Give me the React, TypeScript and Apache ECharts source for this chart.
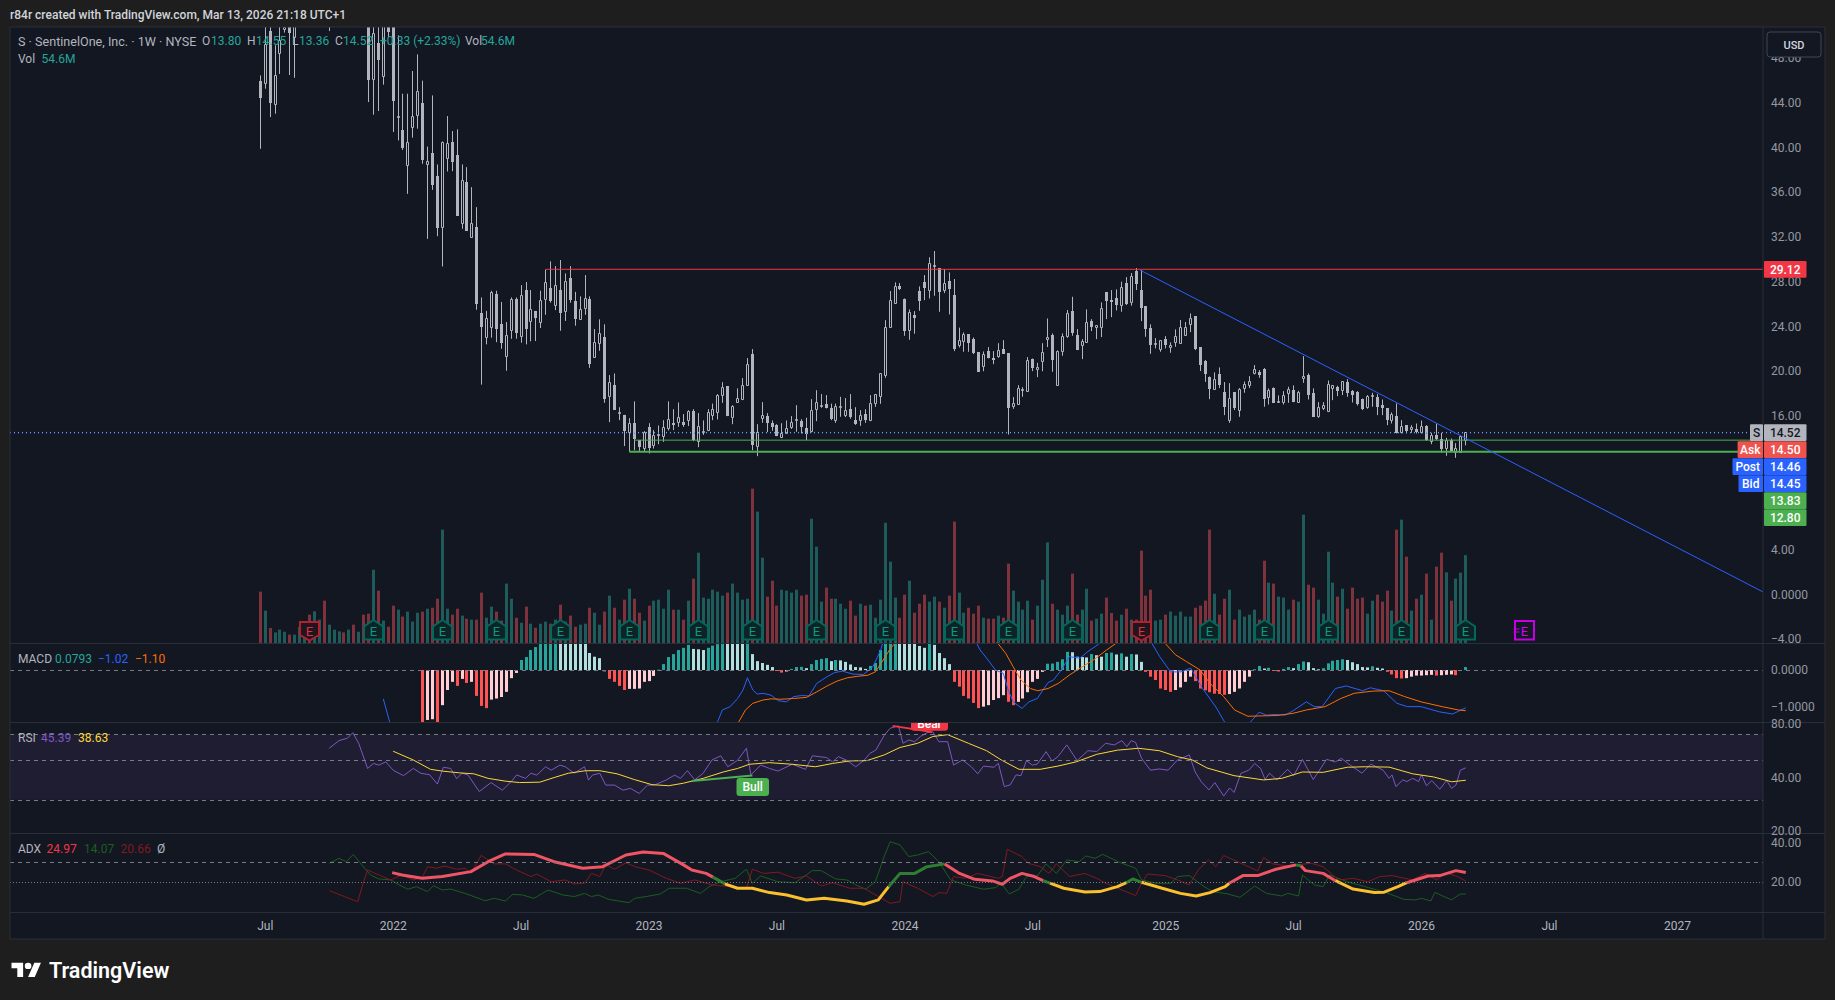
import React, { useEffect, useRef } from "react";
import * as echarts from "echarts";

// ---------- DATA ----------
// weekly candles, index 0 = week of 28 Jun 2021: [open, high, low, close]
const candles: number[][] = [
[45.96,46.47,39.9,44.47],[45.73,52,45.28,49.2],[50.44,52,42.74,44.02],[43.84,49.16,43.04,46.47],[48.4,52,46.6,49.6],
[50.55,53,50.3,50.8],[53,55,46.5,50.26],[49.9,55,46.26,53],[54,57,52,56],[56,60,55,59],
[59,62,57,58],[58,64,57,63],[63,68,62,66],[66,70,60,62],[62,66,50.44,64],
[64,72,63,70],[70,75,68,72],[72,78,66,68],[68,74,62,71],[71,73,58,60],
[60,66,55,62],[62,64,54,56],[56,60,44.08,46.08],[46.08,52,42.95,50.26],[49.4,51.5,43.28,47.87],
[46.4,52,45.64,51.2],[52.5,53.5,49.9,50.35],[51,52,41.4,44.17],[42.72,50.05,40.65,42.75],[41.55,44.83,39.8,40],
[38.38,44.83,35.87,40.5],[41.79,46.86,40.9,42.8],[42.86,48.35,41.7,45.04],[44,46,38.56,38.92],[38.47,40.1,31.84,38.8],
[39.52,44.68,36.23,36.68],[37.46,38.5,32.08,32.83],[32.9,40.56,29.37,40.5],[39.04,42.83,37.87,40.4],[40.5,41.49,37.9,38.74],
[39.34,41.64,33.9,33.9],[33.2,38.5,32.74,37.07],[36.9,38.26,32.56,32.56],[31.93,36.47,31.93,33.25],[32.9,34.68,25.5,26],
[25.2,26.6,18.8,23.95],[23,25.4,22.4,24.7],[23.95,27.2,23,27],[26.9,27.2,22.6,23.8],[24.2,26.2,22,22.5],
[21.3,24.4,20.04,23.2],[23.62,26.6,22.9,26.43],[26.43,26.6,22.9,23.44],[23.08,27.7,22.55,26.8],[27.3,27.98,22.4,23.8],
[24.46,27.26,22.67,25.5],[25.38,25.4,22.7,24.75],[24.34,27.2,23.86,26.37],[26.43,29.1,25.05,27.98],[27.44,29.83,26.13,26.3],
[25.9,29.4,25.47,27.68],[27.3,29.95,23.62,25.23],[25.35,28.75,24.5,28.04],[28.34,29.4,26.13,26.37],[26.3,27.1,24.07,24.7],
[24.63,26.7,24.63,25.5],[25.6,28.6,25.05,26.5],[26.43,26.7,20.3,20.64],[21.23,23.77,21.23,22.58],[22.49,24.64,21.83,23.38],
[23.08,24.2,17.17,17.53],[17.71,19.65,15.44,18.96],[18.81,19.8,16.55,16.55],[16.31,16.78,15.62,16.33],[16.07,16.1,13.3,14.64],
[14.49,15.8,12.8,15.35],[15.35,17.3,12.93,13.92],[13.83,13.83,12.87,13.23],[13.05,14.64,12.8,14.52],[15,15.35,12.64,13.17],
[13.38,14.73,13.08,14.25],[14.32,15.14,13.47,14.34],[14.13,15.62,13.68,14.96],[14.84,17.3,14.7,15.68],[15.35,16.6,14.73,15.17],
[15.38,17.2,15.02,15.86],[15.44,16.16,15.02,15.23],[15.56,16.5,15.1,16.4],[16.4,16.6,13.74,13.83],[13.71,16.25,13.2,15.05],
[14.55,15.6,14.3,14.6],[14.73,16.6,14.64,16.31],[16,17.1,15.62,16.57],[16.28,17.95,15.68,17.86],[17.8,19.02,17.17,18.55],
[18.67,18.67,15.98,15.98],[15.83,16.96,15.26,16.87],[17.17,18.46,17.17,17.56],[17.5,19.38,17.41,18.73],[18.76,21.17,18.7,20.6],
[21.5,21.98,12.93,13.38],[13.23,15.26,12.4,14.49],[15.74,17.23,15.38,16.04],[15.98,16.25,14.55,15.38],[15.35,15.59,14.67,15.02],
[15.17,15.26,14.19,14.22],[14.04,15.35,14.01,14.4],[14.43,15.59,14.37,14.87],[14.96,15.98,14.84,15.41],[15.65,16.96,14.58,15.7],
[15.53,15.71,14.43,15.02],[14.96,15.83,13.83,14.4],[14.58,17.5,14.52,16.49],[16.55,18.3,15.53,17.2],[16.87,17.95,16.73,16.93],
[17.05,17.86,16.67,16.73],[16.7,17.1,15.62,15.71],[15.62,17.1,15.38,16.84],[16.85,17.71,15.92,16.87],[16.07,17.6,15.89,16.49],
[16.6,17.95,15.74,15.89],[15.62,16.78,15.2,15.26],[15.56,16.52,15.11,16.04],[16.16,16.6,15.38,15.59],[15.62,17.86,15.53,17.11],
[17.08,17.92,16.81,17.92],[17.71,19.8,17.08,19.8],[19.59,24.57,19.41,23.92],[23.89,27.17,23.89,26.33],[26.04,27.95,26.04,27.59],
[27.59,27.89,27.26,27.35],[26.42,26.51,23.17,23.62],[23.62,25.53,22.81,25.26],[25.02,25.38,23.35,24.78],[27.17,27.59,25.41,26.3],
[27.95,28.6,26.36,27.47],[27.23,30.19,26.51,29.65],[29.42,30.75,26.75,29.44],[29.2,29.2,25.32,27.11],[27.2,29.14,26.99,27.86],
[28.07,28.84,25.08,27.35],[26.81,28.25,21.8,21.98],[22.33,23.9,22.12,22.75],[22.69,23.47,21.74,23.32],[23.29,23.29,21.74,22.51],
[22.87,23.02,21.53,21.59],[21.71,21.71,19.95,19.95],[20.39,21.77,20,21.53],[21.77,22.16,21.14,21.2],[21.17,21.8,20.63,21.02],
[21.29,22.51,21.2,21.86],[21.98,22.78,21.56,21.56],[21.62,21.62,14.33,16.72],[16.87,17.68,16.63,17.11],[16.99,18.75,16.99,18.45],
[18.34,18.57,17.71,18.36],[18.15,21.26,18.15,20.99],[21.05,21.14,20,20.3],[20.13,20.75,19.47,20.33],[20.84,22.51,20,21.68],
[22.81,24.72,22.16,23.02],[23.23,23.38,19.95,21.02],[18.69,21.86,18.69,21.77],[21.74,23.38,21.38,23.11],[23.08,25.47,22.99,25.17],
[25.38,26.66,23.17,23.41],[23.23,23.77,21.89,21.89],[22.27,22.87,21.08,22.66],[22.54,25.53,22.54,24.36],[24.48,24.66,23.59,23.95],
[23.89,24.12,22.87,24.12],[23.95,26.16,23.05,25.62],[27.08,27.08,24.66,26.3],[26.36,27.26,24.84,26.18],[26.51,27.32,25.44,25.92],
[25.86,28.01,25.32,27.5],[27.89,28.42,25.92,25.98],[26.13,28.78,25.86,28.48],[28.96,29.23,27.26,27.83],[27.26,29.05,24.48,25.68],
[25.83,25.83,23.08,23.8],[23.83,24.19,21.56,22.36],[22.43,22.96,22.04,22.45],[21.95,22.79,21.74,22.79],[22.88,23.14,22.04,22.34],
[22.1,22.58,21.65,22.31],[22.55,23.74,22.19,23.11],[22.49,24.58,22.43,23.92],[23.17,24.4,23.17,23.92],[24.19,25.17,23.5,24.73],
[24.94,24.94,21.89,21.98],[22.13,22.13,20.01,20.55],[20.9,21,19.05,19.74],[19.47,19.53,17.5,18.4],[18.4,19.89,18.4,19.26],
[19.71,20.34,18.49,18.79],[18.13,19.03,16.07,16.79],[15.62,18.93,15.38,17.56],[18.1,18.1,16.52,16.67],[16.46,18.49,15.92,18.4],
[18.46,19.08,18.07,18.82],[18.73,19.56,18.49,19.08],[19.83,20.55,19.71,20.16],[19.92,20.1,19.41,19.68],[20.19,20.28,16.82,17.53],
[17.62,18.46,17.02,18.25],[18.49,18.55,17.17,17.17],[17.24,17.83,17.17,17.26],[17.23,18.22,17.02,17.83],[17.98,18.61,17.17,18.37],
[18.28,18.73,17.23,17.26],[17.23,18.25,17.17,18.07],[19.32,21.35,18.96,19.53],[19.62,19.8,17.47,17.89],[18.01,18.46,15.92,15.92],
[15.95,17.23,15.83,16.76],[16.7,17.23,16.52,16.93],[16.4,19.17,16.34,18.82],[18.49,18.73,17.41,18.73],[18.58,18.7,17.77,18.25],
[18.25,19.08,17.86,19.08],[19.03,19.29,17.71,18.07],[18.22,18.31,17.2,17.86],[18.13,18.22,16.93,17.11],[17.47,17.56,16.52,16.64],
[16.73,17.86,16.64,17.71],[17.81,18.07,16.82,17.83],[17.71,17.95,16.07,16.82],[16.99,17.47,16.07,16.7],[16.67,16.67,15.17,15.62],
[15.62,16.31,15.32,16.16],[15.98,17.11,14.43,14.49],[14.49,15.62,14.43,15.08],[15.17,15.17,14.43,14.61],[14.76,15.17,14.49,14.96],
[14.79,15.32,14.43,14.55],[14.49,15.59,14.43,15.05],[15.11,15.17,13.77,13.83],[13.68,14.49,13.47,14.28],[14.28,15.32,13.83,13.89],
[13.92,14.49,12.7,13.08],[13.08,14.04,12.43,13.83],[13.83,13.98,12.79,12.79],[12.7,13.56,12.25,13.08],[12.76,14.28,12.7,14.13],
[13.8,14.55,13.36,14.52],
];

// volume, millions of shares, one per candle
const volumes: number[] = [
31.9,20.1,9.3,6.6,8.3,7,5.2,5.2,9.9,13.5,17.6,19.7,14.5,26.3,11.4,8.3,7.2,6.6,8.3,11.4,
7,17.6,18.2,45.5,32.5,13.9,10.1,23.2,20.7,16.4,19.5,13.3,18.8,19.5,21.3,21.9,27.5,70.4,21.3,17.6,
21.3,17,15.1,14.5,14.5,31.3,15.7,22.6,19.5,13.9,36.9,27.5,15.7,12.6,22.6,12,9.5,12,13.3,12,
14.5,23.8,13.3,17,10.1,11.4,12,21.9,18.8,11.4,19.5,29.4,21.9,14.5,26.9,33.7,27.5,18.8,13.9,23.2,
26.3,26.9,21.3,33.1,20.7,20.7,14.5,26.3,40,56.1,28.2,27.5,33.1,31.9,29.4,31.3,36.9,31.3,26.9,27.5,
95.9,81.6,53,28.8,38.7,23.2,33.1,32.5,31.3,33.1,29.4,30,77.2,59.8,25.7,34.4,27.5,27.5,24.4,21.3,
26.3,17,24.4,23.2,23.8,15.7,26.9,74.7,50.5,28.2,15.7,30,38.7,18.8,24.4,30,25.7,28.8,25.7,21.9,
29.4,75.4,31.3,18.8,21.9,18.2,23.2,15.7,15.1,15.1,17,15.7,49.3,32.5,25.7,20.7,26.3,14.5,23.2,39.3,
62.5,24.4,20.7,17.6,23.2,43.1,17.6,20.7,33.7,13.9,15.1,18.2,28.2,18.6,13.9,17.6,21.3,14.5,14.5,57.4,
29.4,33.1,13.9,14.5,17.6,19.5,17,19.5,16.4,16.4,21.9,23.2,26.3,70.4,30.6,17.6,27.5,33.1,14.5,20.7,
16.4,17.6,20.7,14.5,51.1,37.5,36.9,28.8,28.2,20.7,26.9,25.7,79.7,36.2,34.4,26.9,18.2,56.7,37.5,28.8,
33.7,21.3,34.4,27.5,28.2,18.2,26.3,30,25.7,32.5,20.1,70.4,76.6,53.6,20.1,27.5,30,43.1,14.5,47.4,
56.1,43.9,26.3,40,43.7,54.6,
];

// MACD histogram, first value belongs to candle index 33
const histStart = 33;
const macdHist: number[] = [
-1.53,-1.35,-1.33,-1.5,-.95,-.54,-.32,-.43,-.24,-.35,-.32,-.7,-.97,-1.03,-.8,-.77,-.73,-.59,-.22,-.08,
.27,.35,.54,.62,.8,.9,1,1.1,1,.95,.9,.85,.8,.75,.46,.36,.32,-.04,-.24,-.32,-.43,-.54,-.51,-.51,-.5,-.32,-.3,-.16,
.01,.16,.35,.43,.54,.6,.68,.57,.56,.54,.6,.66,.7,.9,.85,.8,.75,.72,.8,.43,.24,.19,.14,.08,-.02,-.07,-.04,.03,.08,.085,.05,
.16,.27,.3,.32,.24,.27,.26,.22,.15,.08,.07,.03,.11,.19,.54,.9,1.1,1.2,1.15,1.1,1,.85,.65,.6,.72,.68,.46,.32,.16,
-.32,-.45,-.7,-.77,-.89,-1.03,-.99,-.95,-.81,-.76,-.68,-.86,-.95,-.86,-.77,-.6,-.32,-.24,-.05,
.17,.175,.22,.29,.49,.48,.36,.35,.34,.43,.4,.36,.46,.47,.42,.45,.36,.43,.42,.22,
-.05,-.18,-.27,-.5,-.54,-.59,-.54,-.47,-.32,-.18,-.3,-.5,-.55,-.6,-.64,-.65,-.67,-.65,-.59,-.5,-.32,-.18,
.02,.11,.04,.06,-.01,-.04,.03,.08,.05,.16,.23,.21,.05,.02,.05,.18,.25,.27,.29,.27,.21,.16,.08,.07,.1,.06,.04,
-.05,-.12,-.22,-.23,-.22,-.18,-.15,-.15,-.14,-.13,-.15,-.14,-.13,-.12,-.14,-.01,.0793,
];

// sparse [candle index, value] vertices
const macdLine: number[][] = [
[25,-.78],[26.3,-1.41],[35,-3.5],[60,-3.8],[85,-2.5],[92.9,-1.41],[93.9,-1.08],[95.5,-.99],[97,-.77],[98.1,-.54],[99,-.21],[100.1,-.54],[101,-.65],[102.2,-.63],[103.8,-.68],[105.3,-.83],[106.9,-.86],[108.4,-.72],[110,-.69],[111.5,-.7],[113.1,-.36],[115.2,-.18],[116.7,-.07],[118.3,-.03],[120.4,-.11],[122.6,-.12],[124.5,.09],[126.1,.54],[126.8,.9],[135,3],[142,2.5],[145.6,.72],[146.3,.54],[147.9,.27],[149.4,0],[151,-.09],[152,-.54],[153,-.86],[154.8,-1.04],[156.2,-.86],[157.9,-.77],[160.1,-.34],[161.2,-.27],[162.8,0],[164.4,.36],[166.6,.32],[168.2,.5],[170.4,.7],[175,1.5],[180,1.2],[181.2,.72],[182.8,.36],[185,-.05],[187.1,-.05],[189.1,.05],[191.5,-.5],[194.2,-1],[196,-1.41],[198,-1.8],[200,-1.8],[201.2,-1.41],[203,-1.14],[204.5,-1.22],[206.1,-1.2],[208.3,-1.22],[209.9,-1.1],[212.6,-.86],[214.2,-.99],[215.8,-.99],[218.5,-.5],[220.7,-.43],[224,-.56],[225.6,-.48],[228.3,-.56],[231,-.9],[233.1,-.99],[235.9,-.99],[239.6,-1.13],[242.3,-1.19],[245,-1.02],
];
const macdSignal: number[][] = [
[34,-3],[60,-3.2],[90,-3],[97.2,-1.41],[98.6,-1.08],[100.1,-.9],[102.2,-.81],[103.8,-.78],[105.8,-.79],[108.4,-.77],[111,-.74],[113.1,-.59],[115.2,-.43],[117.2,-.3],[119.3,-.21],[121.4,-.17],[123.5,-.14],[125,-.05],[126.6,.27],[128.1,.59],[129,.72],[135,2],[142,1.5],[149.9,.72],[151.5,.45],[153,.09],[154.6,-.27],[156.5,-.5],[158,-.56],[160.1,-.5],[162.2,-.36],[164.4,-.14],[166.6,.05],[169.3,.27],[172,.54],[173.9,.72],[178,1.2],[183.9,.72],[186,.41],[188.2,.23],[191,0],[193,-.36],[195.8,-.72],[198,-1.08],[200.7,-1.25],[203.4,-1.24],[206.6,-1.23],[209.9,-1.17],[212.6,-1.08],[216.4,-.99],[219.6,-.77],[222.3,-.63],[226.1,-.57],[229.4,-.56],[232.6,-.72],[235.9,-.86],[240.2,-.99],[243.5,-1.08],[245,-1.1],
];
const rsiLine: number[][] = [
[14,58.4],[16,64.5],[17.7,66.5],[18.8,71.4],[20,62.3],[21.8,45],[23,48],[24.1,47],[25.5,49],[27,44],[29.1,41],[31.1,45],[32.6,42.3],[34.4,41.5],[36,36.8],[37.2,45.7],[38.7,45],[39.9,39.4],[41,42.3],[42.2,41.4],[44.5,33.4],[46.9,37.5],[49.2,34],[51,38],[52.1,41.4],[53.9,39.6],[55,42.3],[56.2,41.3],[58,46],[59.1,44],[60.9,47],[62,46],[63.8,42.3],[65.9,46],[66.7,38.7],[67.5,41.3],[69,42.3],[70.2,36.3],[72,36.3],[73.7,34],[75.2,34.8],[77,32.6],[78.7,36.3],[80.1,36.3],[82.5,38.8],[84.2,41.3],[85.4,39.6],[86.8,43.7],[88.3,38.8],[90,42.3],[91.8,50.2],[93.6,53],[95,46],[97,50],[98.8,58.4],[99.7,41.4],[101.7,47],[103.5,45],[105.2,43.5],[108.1,47.5],[110.8,44.5],[112.2,53],[115.1,51.8],[116.3,49],[117.5,52.4],[119.2,50],[121,46],[122.7,50],[123.9,54.7],[125.1,57],[126.8,69],[128,75.6],[129.7,78],[130.6,62.3],[131.8,65],[133,63.6],[134.2,68.2],[135.5,71.4],[136.7,72.2],[137.9,63.6],[139.7,63.6],[140.9,47],[142.7,50.2],[144.5,46],[145.8,42],[147,46.4],[149.1,45.7],[150,48.1],[151.2,35.6],[152.4,36.4],[153.6,41.4],[154.6,41],[155.7,49.8],[156.9,47],[157.9,47.6],[159.7,55.9],[160.9,49.6],[162.1,52.4],[163.9,61],[166,49.8],[168.2,56.6],[170,56],[171.8,62.3],[173.6,61],[175.1,64.5],[176.1,59.6],[177,64.5],[177.9,63],[179.1,51.3],[180.9,44],[182.7,44.7],[184.5,44],[186.4,50.2],[188.8,53.6],[190,43],[191.2,38],[192.8,34.1],[194,37.5],[195.8,31.5],[197,35],[197.9,33],[199.3,42.3],[200.9,44],[202.1,48],[203.3,45],[204.2,39],[205.1,42.3],[206.6,38.8],[208.8,44.5],[210,41],[211.8,50.6],[214,39],[216.7,50.6],[218.5,49],[219.7,51.3],[221.5,47],[223.9,42.3],[225.7,47.6],[228.2,44],[229.4,39.6],[230,41.4],[230.8,35.6],[232.2,38.8],[233,38],[234.2,39.6],[235.4,38],[236,41.4],[237,36],[238.1,38.5],[239.7,34.4],[241.1,38.5],[242.1,34.8],[243,36.3],[243.9,44],[245,45.39],
];
const rsiAverage: number[][] = [
[27,56.2],[31.1,50.2],[34.6,44.5],[37,43.5],[40.5,42.5],[43.4,42],[46.3,39.6],[49.8,38.2],[52.7,37.5],[56.8,37.7],[59.7,40],[62.6,42.3],[66.1,43.7],[69,43.7],[72.5,42],[76,39],[79.6,36.5],[83,36],[86,37.2],[90,39.6],[94.1,43],[97,45],[99.4,47.5],[103.5,48.5],[108.1,47.5],[112.8,46],[116.3,48],[119.8,49.6],[123.3,49.8],[126.8,53.6],[130,59],[133.6,62.3],[136.7,68],[139.7,69.6],[143.9,62.3],[147.6,56.6],[150.6,50.2],[154.2,44.5],[158.5,44.5],[162.1,46.4],[165.8,49],[170,54],[174.2,57],[178.5,58.4],[182.7,56.6],[186.4,52.4],[189.4,50.2],[192.4,45.3],[197.9,41],[203.9,38.8],[207.6,39.6],[211.8,43],[216,42.8],[220.9,45.7],[224.5,46],[229.4,45.8],[234.2,42],[238.5,40.3],[242.1,37.9],[245,38.63],
];
const bullDivergence: number[][] = [[87.7,38.3],[100,41.1]];
const bearDivergence: number[][] = [[128.5,78],[136.5,72]];

const plusDI: number[][] = [
[14,29.6],[16,32.1],[17.5,30.4],[18.9,34.1],[20.6,28.8],[22.4,23.7],[24.1,21.7],[26.5,21.2],[28.2,18.7],[30,16.5],[31.7,17.8],[34,15.3],[35.2,18.3],[37,16.1],[38.7,16.6],[41.6,14.4],[45.7,10.7],[47.5,11.9],[49.8,10.6],[51.3,13.9],[53.3,13.6],[55.6,11.9],[58.5,16.1],[61.5,13.6],[63.8,12.8],[65.9,14.4],[67.3,12.8],[68.7,13.6],[70.8,11.4],[74.9,9.7],[76.1,11.9],[78.4,12.8],[81.3,14.1],[83.1,17],[86.6,17],[89.5,14.4],[91.2,17.8],[93.6,20.3],[96.5,22],[98.8,26.6],[100,19.5],[101.7,23.2],[105.2,20.3],[108.7,19.8],[110.5,22.9],[112.2,25.9],[114,25.9],[116.9,21.7],[119.2,21.2],[121,18.7],[123,16.5],[125,20.3],[126.8,33],[128,40.5],[130,38.9],[131.8,33],[133.6,33.8],[135.8,35.5],[137.9,30.4],[140.3,21.2],[143.3,18.7],[147,16.5],[149.4,17.3],[150.6,19.5],[152.2,14.1],[154.2,16.5],[155.7,22.9],[157.9,23.2],[159.7,29.3],[161.8,24.5],[163.9,31.3],[166.4,30.4],[167.8,33.3],[169.6,32.1],[171.2,34.1],[174.8,29.9],[177.9,27.1],[179.1,21.2],[182.1,19.5],[185.1,19.5],[186.4,22.9],[188.8,23.4],[191.8,17.8],[193.6,15.3],[196.7,14.1],[199.1,12.4],[202.1,18.1],[204.5,14.4],[207.6,13.1],[208.8,14.4],[211,13.1],[211.8,23.7],[214.2,18.7],[216,17.8],[217.3,23.7],[220.9,20.3],[224.5,17.8],[228.8,14.8],[232.4,11.4],[234.8,11.1],[236,11.9],[237.9,10.6],[238.7,14.9],[242.1,11.1],[243.9,14.1],[245,14.07],
];
const minusDI: number[][] = [
[14,15.8],[17.1,12.8],[19.8,10.2],[20.9,19.5],[21.8,26.2],[24.1,23.7],[26.5,21.2],[28.8,23.7],[31.1,21.2],[32.9,22.4],[34,27.9],[35.8,27.1],[37.5,28.2],[39.9,26.6],[41.6,27.1],[42.8,24.5],[44.9,33.6],[47.5,29.3],[49.8,29.3],[52.1,26.2],[55,22.9],[56.2,24.2],[59.1,20.3],[62,21.2],[63.8,19.2],[65.9,19.5],[67.3,24.5],[69,22.9],[70.2,28.8],[72,26.6],[74.3,29.9],[76.1,27.9],[79,26.2],[82.5,22],[85.4,19.5],[88.3,21.2],[91.8,18.7],[95.3,17.8],[98.8,17],[100,26.6],[102.3,24.5],[105.2,25.1],[108.7,22],[111,23.2],[114,18.1],[116.3,19.8],[119.8,17],[122.7,17],[125.6,12.8],[128,9.4],[130,10.2],[130.6,20.3],[133.6,17],[136.7,12.8],[137.9,14.8],[139.5,14.4],[140.9,22.9],[143.3,22],[145.8,24.5],[150,22],[150.8,22.9],[151.8,36.7],[154.8,33],[156.1,29.6],[158.5,27.9],[160.3,24.5],[161.8,29.3],[164.5,22.9],[167.6,24.5],[170,22],[171.8,19.5],[177.9,13.3],[179.1,19.5],[180.3,24.2],[183.9,23.4],[186.4,21.2],[188.8,18.7],[190.6,26.2],[192.7,31.3],[194.2,27.9],[195.8,33.5],[199.1,29.9],[202.7,25.7],[203.9,32.5],[205.8,29.3],[208.8,28.2],[210.6,28.8],[213.6,29.6],[216,27.9],[219.1,21.2],[222.1,22],[225.1,20.3],[227.6,22.9],[230,23.4],[234.2,21.2],[236.7,24.5],[239.1,21.2],[240.9,24.9],[243.3,22.9],[245,20.66],
];
// ADX thick line, split where its colour changes
const adxRed1: number[][] = [[26.8,24.9],[28.8,23.7],[32.9,22],[37,22.9],[42.8,25.4],[46.3,30.4],[49.8,34.3],[55.6,34.1],[59.7,30.4],[65.5,27.1],[69.6,27.9],[74.3,33.8],[77.8,35.3],[81.9,34.6],[86,28.8],[87.7,26.2],[90.6,24.5],[92,22.6]];
const adxGreen1: number[][] = [[92,22.6],[93,21.2],[94.4,19.2]];
const adxYellow1: number[][] = [[94.4,19.2],[97,17],[100,17],[103.5,14.8],[107,13.6],[111,11.1],[114.6,11.9],[119.2,10.6],[122.7,8.9],[125.6,11.1],[127.7,17.8]];
const adxGreen2: number[][] = [[127.7,17.8],[130,24.5],[133,24.5],[135.5,27.9],[139.1,29.3]];
const adxRed2: number[][] = [[139.1,29.3],[142.1,24.5],[145.2,21.5],[148.8,20.7],[150.8,19],[152.4,22],[154.8,24.5],[157.3,22.9],[159.1,20.8]];
const adxGreen3: number[][] = [[159.1,20.8],[160.5,19.6]];
const adxYellow2: number[][] = [[160.5,19.6],[163.3,17],[167.6,15.1],[170.6,15.3],[174.2,17.8],[176,19.8]];
const adxGreen4: number[][] = [[176,19.8],[177.3,21.7],[179.1,20]];
const adxYellow3: number[][] = [[179.1,20],[183.3,17],[187,14.4],[190.2,13.1],[193,14.8],[196.1,17.8],[196.9,19.5]];
const adxRed3: number[][] = [[196.9,19.5],[199.7,23.4],[202.7,23.4],[206.4,26.6],[210.5,28.8]];
const adxGreen5: number[][] = [[210.5,28.8],[211.5,28.3]];
const adxRed4: number[][] = [[211.5,28.3],[212.4,25.9],[216,24.5],[218.5,20.8]];
const adxYellow4: number[][] = [[218.5,20.8],[222.1,16.6],[226.4,14.8],[228.4,15],[231.2,17.8],[233,19.8]];
const adxRed5: number[][] = [[233,19.8],[237.3,23.2],[239.7,23.4],[243,25.9],[245,24.97]];

const earningsUp: number[] = [23,37,48,61,75,89,100,113,127,141,152,165,193,204,217,232,245];
const earningsDown: number[] = [10,179];
const earningsNext: number[] = [257];

const priceTicks: number[] = [48,44,40,36,32,28,24,20,16,4,0,-4];
const macdTicks: number[] = [0,-1];
const adxTicks: number[] = [40,20];
const timeTicks: number[] = [1,27,53,79,105,131,157,184,210,236,262,288];
const timeLabels: string[] = ["Jul","2022","Jul","2023","Jul","2024","Jul","2025","Jul","2026","Jul","2027"];

const resistance = 29.12, supportHigh = 13.83, supportLow = 12.80, lastPrice = 14.52, postPrice = 14.46;
const trendStart = [178.8,29.05], trendEnd = [305.4,0.25];

// ---------- LAYOUT ----------
const FONT = "Roboto, 'Open Sans', sans-serif";
const PANE = "#131722", LINE = "#2a2e39", MUTED = "#9598a1", SOFT = "#b2b5be";
const LEFT = 10, RIGHT = 1763;
const X_MIN = -50.87, X_MAX = 305.4;
const CANDLE = "#b2b5be";
const UP = "#26a69a";

const T = (text: string, x: number, y: number, fill: string, extra: any = {}) => ({
  type: "text", x, y, z: 70, silent: true,
  style: { text, fill, font: `${extra.weight || 400} ${extra.size || 12}px ${FONT}`, textAlign: extra.align || "left", textVerticalAlign: "middle" },
});
const R = (x: number, y: number, width: number, height: number, fill: string, z = 65, extra: any = {}) => ({
  type: "rect", z, silent: true, shape: { x, y, width, height, r: extra.r || 0 }, style: { fill, stroke: extra.stroke, lineWidth: extra.lineWidth },
});
const L = (x1: number, y1: number, x2: number, y2: number, stroke = LINE, z = 66) => ({
  type: "line", z, silent: true, shape: { x1, y1, x2, y2 }, style: { stroke, lineWidth: 1 },
});

const tag = (label: string | null, value: string, y: number, color: string, labelLeft: number, textColor = "#ffffff") => {
  const out: any[] = [R(1764, y, 42.5, 16.8, color, 68, { r: 1 }), T(value, 1785.2, y + 8.6, textColor, { align: "center", weight: 500 })];
  if (label) {
    out.push(R(labelLeft, y, 1763 - labelLeft, 16.8, color, 68, { r: 1 }));
    out.push(T(label, (labelLeft + 1763) / 2, y + 8.6, textColor, { align: "center", weight: 500 }));
  }
  return out;
};

const half = (v: number) => Math.round(v - 0.5) + 0.5;

function renderCandle(_p: any, api: any) {
  const i = api.value(0), o = api.value(1), h = api.value(2), l = api.value(3), c = api.value(4);
  const x = half(api.coord([i, 0])[0]);
  const yO = api.coord([i, o])[1], yC = api.coord([i, c])[1], yH = api.coord([i, h])[1], yL = api.coord([i, l])[1];
  const up = c >= o;
  const children: any[] = [
    { type: "line", shape: { x1: x, y1: yH, x2: x, y2: yL }, style: { stroke: CANDLE, lineWidth: 1 } },
  ];
  if (up) {
    const top = half(Math.min(yO, yC)), bottom = half(Math.max(yO, yC));
    children.push({ type: "rect", shape: { x: x - 1, y: top, width: 2, height: Math.max(bottom - top, 1) }, style: { fill: PANE, stroke: CANDLE, lineWidth: 1 } });
  } else {
    const top = Math.round(Math.min(yO, yC)), bottom = Math.round(Math.max(yO, yC));
    children.push({ type: "rect", shape: { x: x - 1.5, y: top, width: 3, height: Math.max(bottom - top, 1) }, style: { fill: CANDLE } });
  }
  return { type: "group", children };
}
function renderVolume(_p: any, api: any) {
  const i = api.value(0), v = api.value(1), up = api.value(2) > 0;
  const x = half(api.coord([i, 0])[0]), y0 = api.coord([i, 0])[1], y1 = api.coord([i, v])[1];
  return { type: "rect", shape: { x: x - 1.5, y: y1, width: 3, height: y0 - y1 }, style: { fill: up ? "#1d5c5a" : "#7e323c" } };
}
function renderHist(_p: any, api: any) {
  const i = api.value(0), v = api.value(1), prev = api.value(2);
  const x = half(api.coord([i, 0])[0]), y0 = api.coord([i, 0])[1], y1 = api.coord([i, v])[1];
  const fill = v >= 0 ? (v > prev ? "#26a69a" : "#b2dfdb") : (v < prev ? "#ff5252" : "#ffcdd2");
  return { type: "rect", shape: { x: x - 1.5, y: Math.min(y0, y1), width: 3, height: Math.max(Math.abs(y1 - y0), 1) }, style: { fill } };
}
const renderBadge = (kind: "up" | "down" | "next") => (_p: any, api: any) => {
  const i = api.value(0);
  const [xr, y] = api.coord([i, 0]);
  const x = half(xr);
  const stroke = kind === "up" ? "#00695c" : kind === "down" ? "#b3202e" : "#c400e6";
  const fill = kind === "up" ? "#0f2226" : kind === "down" ? "#1f1620" : PANE;
  const text = kind === "up" ? "#089981" : kind === "down" ? "#e0303f" : "#d500f9";
  const pts = kind === "up"
    ? [[x, y - 23], [x + 9.5, y - 16.5], [x + 9.5, y - 3.5], [x - 9.5, y - 3.5], [x - 9.5, y - 16.5]]
    : kind === "down"
      ? [[x - 9.5, y - 21], [x + 9.5, y - 21], [x + 9.5, y - 8], [x, y - 2.5], [x - 9.5, y - 8]]
      : [[x - 9.5, y - 22], [x + 9.5, y - 22], [x + 9.5, y - 3.5], [x - 9.5, y - 3.5]];
  const children: any[] = [
    { type: "polygon", shape: { points: pts }, style: { fill, stroke, lineWidth: 2 } },
    { type: "text", style: { text: "E", x, y: y - 12, fill: text, font: `13px ${FONT}`, textAlign: "center", textVerticalAlign: "middle" } },
  ];
  if (kind === "next") {
    children.push({ type: "line", shape: { x1: x - 11, y1: y - 14, x2: x - 5, y2: y - 14 }, style: { stroke, lineWidth: 1 } });
    children.push({ type: "line", shape: { x1: x - 11, y1: y - 11, x2: x - 5, y2: y - 11 }, style: { stroke, lineWidth: 1 } });
  }
  return { type: "group", children };
};

echarts.graphic.registerShape("tvlogo", echarts.graphic.extendPath("M14 22H7V11H0V4h14v18zM28 22h-8l7.5-18h8L28 22zM24 8a4 4 0 1 1-8 0a4 4 0 1 1 8 0z", {}) as any);

function buildOption(): any {
  const line = (data: number[][], color: string, width: number, xi: number, yi: number, extra: any = {}) => ({
    type: "line", data, xAxisIndex: xi, yAxisIndex: yi, showSymbol: false, symbol: "none", silent: true,
    lineStyle: { color, width, ...(extra.dash ? { type: extra.dash } : {}) }, ...extra.series,
  });
  const dashLines = (vals: number[], dash: any = [4, 4]) => ({
    silent: true, symbol: "none", label: { show: false },
    lineStyle: { color: "#787b86", width: 1, type: dash }, data: vals.map((v) => ({ yAxis: v })),
  });
  const xA = (grid: number, labels = false) => ({
    type: "value", gridIndex: grid, min: X_MIN, max: X_MAX, splitLine: { show: false }, axisLine: { show: false }, axisTick: { show: false },
    axisLabel: labels
      ? { show: true, customValues: timeTicks, margin: 8, color: SOFT, fontFamily: FONT, fontSize: 12,
          formatter: (v: number) => timeLabels[timeTicks.indexOf(Math.round(v))] ?? "" }
      : { show: false },
  });
  const yLab = (vals: number[], fmt: (v: number) => string) => ({
    show: true, customValues: vals, margin: 8, color: MUTED, fontFamily: FONT, fontSize: 12, formatter: fmt,
  });
  const yA = (grid: number, min: number, max: number, axisLabel: any, extra: any = {}) => ({
    type: "value", gridIndex: grid, min, max, position: "right", splitLine: { show: false }, axisLine: { show: false }, axisTick: { show: false },
    axisLabel, ...extra,
  });
  const priceFmt = (v: number) => (v === 0 ? "0.0000" : v < 0 ? "\u2212" + Math.abs(v).toFixed(2) : v.toFixed(2));
  const macdFmt = (v: number) => (v === 0 ? "0.0000" : "\u2212" + Math.abs(v).toFixed(4));

  const series: any[] = [
    { type: "custom", xAxisIndex: 0, yAxisIndex: 1, clip: true, silent: true, renderItem: renderVolume, encode: { x: 0, y: 1 },
      data: volumes.map((v, i) => [i, v, candles[i][3] >= candles[i][0] ? 1 : 0]) },
    { type: "custom", xAxisIndex: 0, yAxisIndex: 0, clip: true, silent: true, renderItem: renderCandle, encode: { x: 0, y: [1, 2, 3, 4] },
      data: candles.map((c, i) => [i, ...c]) },
    line([[X_MIN, lastPrice], [X_MAX, lastPrice]], "#c9cede", 1, 0, 0, { dash: [1, 3] }),
    line([[X_MIN, postPrice], [X_MAX, postPrice]], "#2962ff", 1, 0, 0, { dash: [1, 3] }),
    line([[58, resistance], [X_MAX, resistance]], "#f23645", 1, 0, 0),
    line([[76, supportHigh], [X_MAX, supportHigh]], "#4caf50", 1, 0, 0),
    line([[75, supportLow], [X_MAX, supportLow]], "#4caf50", 2, 0, 0),
    line([trendStart, trendEnd], "#2962ff", 1, 0, 0),
    { type: "custom", xAxisIndex: 0, yAxisIndex: 1, clip: false, silent: true, z: 5, renderItem: renderBadge("up"), encode: { x: 0, y: 1 }, data: earningsUp.map((i) => [i, 0]) },
    { type: "custom", xAxisIndex: 0, yAxisIndex: 1, clip: false, silent: true, z: 5, renderItem: renderBadge("down"), encode: { x: 0, y: 1 }, data: earningsDown.map((i) => [i, 0]) },
    { type: "custom", xAxisIndex: 0, yAxisIndex: 1, clip: false, silent: true, z: 5, renderItem: renderBadge("next"), encode: { x: 0, y: 1 }, data: earningsNext.map((i) => [i, 0]) },

    // MACD
    { type: "custom", xAxisIndex: 1, yAxisIndex: 2, clip: true, silent: true, renderItem: renderHist, encode: { x: 0, y: 1 },
      data: macdHist.map((v, k) => [histStart + k, v, k ? macdHist[k - 1] : 0]),
      markLine: dashLines([0]) },
    line(macdLine, "#2962ff", 1, 1, 2),
    line(macdSignal, "#ff6d00", 1, 1, 2),

    // RSI
    { ...line(rsiLine, "#7e57c2", 1, 2, 3),
      markLine: dashLines([70, 50, 30]),
      markArea: { silent: true, itemStyle: { color: "rgba(126,87,194,0.1)" }, data: [[{ yAxis: 70 }, { yAxis: 30 }]] } },
    line(rsiAverage, "#fdd835", 1, 2, 3),
    line(bullDivergence, "#4caf50", 2, 2, 3),
    line(bearDivergence, "#f23645", 2, 2, 3),

    // ADX
    { ...line(plusDI, "#1b5e20", 1, 3, 4), markLine: dashLines([30]) },
    { ...line(minusDI, "#801922", 1, 3, 4), markLine: dashLines([20], [1, 2]) },
  ];
  const adxParts: [number[][], string][] = [
    [adxRed1, "#ef5565"], [adxGreen1, "#2e7d32"], [adxYellow1, "#fbc02d"], [adxGreen2, "#2e7d32"], [adxRed2, "#ef5565"],
    [adxGreen3, "#2e7d32"], [adxYellow2, "#fbc02d"], [adxGreen4, "#2e7d32"], [adxYellow3, "#fbc02d"], [adxRed3, "#ef5565"],
    [adxGreen5, "#2e7d32"], [adxRed4, "#ef5565"], [adxYellow4, "#fbc02d"], [adxRed5, "#ef5565"],
  ];
  adxParts.forEach(([d, c]) => series.push(line(d, c, 3, 3, 4)));

  const graphic: any[] = [
    R(LEFT, 27, 1825 - LEFT, 912, PANE, -10),
    // clipping masks for labels cut by pane edges
    R(RIGHT + 1, 643, 60, 6, PANE, 50), R(RIGHT + 1, 716, 60, 6, PANE, 50), R(RIGHT + 1, 833.5, 60, 4, PANE, 50),
    L(LEFT, 27, 1825, 27), L(LEFT, 27, LEFT, 939), L(1825, 27, 1825, 939), L(LEFT, 939, 1825, 939),
    L(RIGHT, 27, RIGHT, 939),
    L(LEFT, 643.5, 1825, 643.5), L(LEFT, 722.5, 1825, 722.5), L(LEFT, 833.5, 1825, 833.5), L(LEFT, 912.5, 1825, 912.5),

    T("r84r created with TradingView.com, Mar 13, 2026 21:18 UTC+1", 10, 15, "#d1d4dc", { size: 12, weight: 500 }),
    // legend
    T("S \u00b7 SentinelOne, Inc. \u00b7 1W \u00b7 NYSE", 18, 41, SOFT, { size: 12.6 }),
    T("O", 202, 41, SOFT), T("13.80", 211, 41, UP),
    T("H", 247, 41, SOFT), T("14.55", 256, 41, UP),
    T("L", 292, 41, SOFT), T("13.36", 299, 41, UP),
    T("C", 335, 41, SOFT), T("14.52", 343, 41, UP),
    T("+0.33 (+2.33%)", 380, 41, UP),
    T("Vol", 465, 41, SOFT), T("54.6M", 481, 41, UP),
    T("Vol", 18, 59, SOFT), T("54.6M", 41.5, 59, UP),
    T("MACD", 18, 659, SOFT), T("0.0793", 55, 659, UP), T("\u22121.02", 98, 659, "#2962ff"), T("\u22121.10", 135, 659, "#ff6d00"),
    T("RSI", 18, 738, SOFT), T("45.39", 41, 738, "#7e57c2"), T("38.63", 78, 738, "#fdd835"),
    T("ADX", 18, 849, SOFT), T("24.97", 46.5, 849, "#f23645"), T("14.07", 84, 849, "#1b5e20"), T("20.66", 120.5, 849, "#801922"), T("\u00d8", 157, 849, SOFT),
    // RSI scale (log axis)
    T("80.00", 1771, 724, MUTED), T("40.00", 1771, 777.7, MUTED), T("20.00", 1771, 830.7, MUTED),
    // divergence labels
    R(736.5, 778, 32.5, 18, "#4caf50", 68, { r: 3 }), T("Bull", 752.7, 787, "#ffffff", { align: "center", weight: 500 }),
    R(911, 716, 37, 14.7, "#f23645", 68, { r: 3 }), T("Bear", 929.5, 724, "#ffffff", { align: "center", weight: 500 }),
    R(905, 715, 50, 7, PANE, 71),
    L(905, 722.5, 955, 722.5, LINE, 72),
    // price tags
    ...tag(null, "29.12", 261, "#f23645", 0),
    ...tag("S", "14.52", 424.3, "#b2b5be", 1750, "#131722"),
    ...tag("Ask", "14.50", 441.3, "#ef5350", 1737.6),
    ...tag("Post", "14.46", 458.3, "#2962ff", 1732.5),
    ...tag("Bid", "14.45", 475.3, "#2962ff", 1738.5),
    ...tag(null, "13.83", 492.3, "#4caf50", 0),
    ...tag(null, "12.80", 509.3, "#4caf50", 0),
    // currency button
    R(1767, 32, 54, 25, PANE, 69, { r: 3, stroke: "#434651", lineWidth: 1 }), T("USD", 1794, 45, "#d1d4dc", { align: "center", size: 11, weight: 500 }),
    // logo
    { type: "tvlogo", x: 11.5, y: 959.5, scaleX: 0.83, scaleY: 0.8, z: 70, silent: true, style: { fill: "#ffffff" } },
    T("TradingView", 49, 970, "#ffffff", { size: 21.5, weight: 600 }),
  ];

  return {
    animation: false,
    backgroundColor: "#1e1e1e",
    tooltip: { show: false },
    grid: [
      { left: LEFT, width: RIGHT - LEFT, top: 27, height: 616 },
      { left: LEFT, width: RIGHT - LEFT, top: 643, height: 79 },
      { left: LEFT, width: RIGHT - LEFT, top: 722, height: 111 },
      { left: LEFT, width: RIGHT - LEFT, top: 833, height: 79 },
    ],
    xAxis: [xA(0), xA(1), xA(2), xA(3, true)],
    yAxis: [
      yA(0, -4.32, 50.8, yLab(priceTicks, priceFmt)),
      yA(0, 0, 382.6, { show: false }),
      yA(1, -1.405, 0.73, yLab(macdTicks, macdFmt)),
      { type: "log", gridIndex: 2, min: 19.55, max: 82, position: "right", splitLine: { show: false }, axisLine: { show: false }, axisTick: { show: false }, axisLabel: { show: false } },
      yA(3, 5, 44.9, yLab(adxTicks, (v) => v.toFixed(2))),
    ],
    series,
    graphic: { elements: graphic },
  };
}

export default function App() {
  const ref = useRef<HTMLDivElement>(null);
  useEffect(() => {
    document.body.style.margin = "0";
    document.body.style.background = "#1e1e1e";
    const chart = echarts.init(ref.current!, undefined, { renderer: "svg" });
    chart.setOption(buildOption());
    return () => chart.dispose();
  }, []);
  return <div ref={ref} style={{ position: "absolute", left: 0, top: 0, width: 1835, height: 1000 }} />;
}
